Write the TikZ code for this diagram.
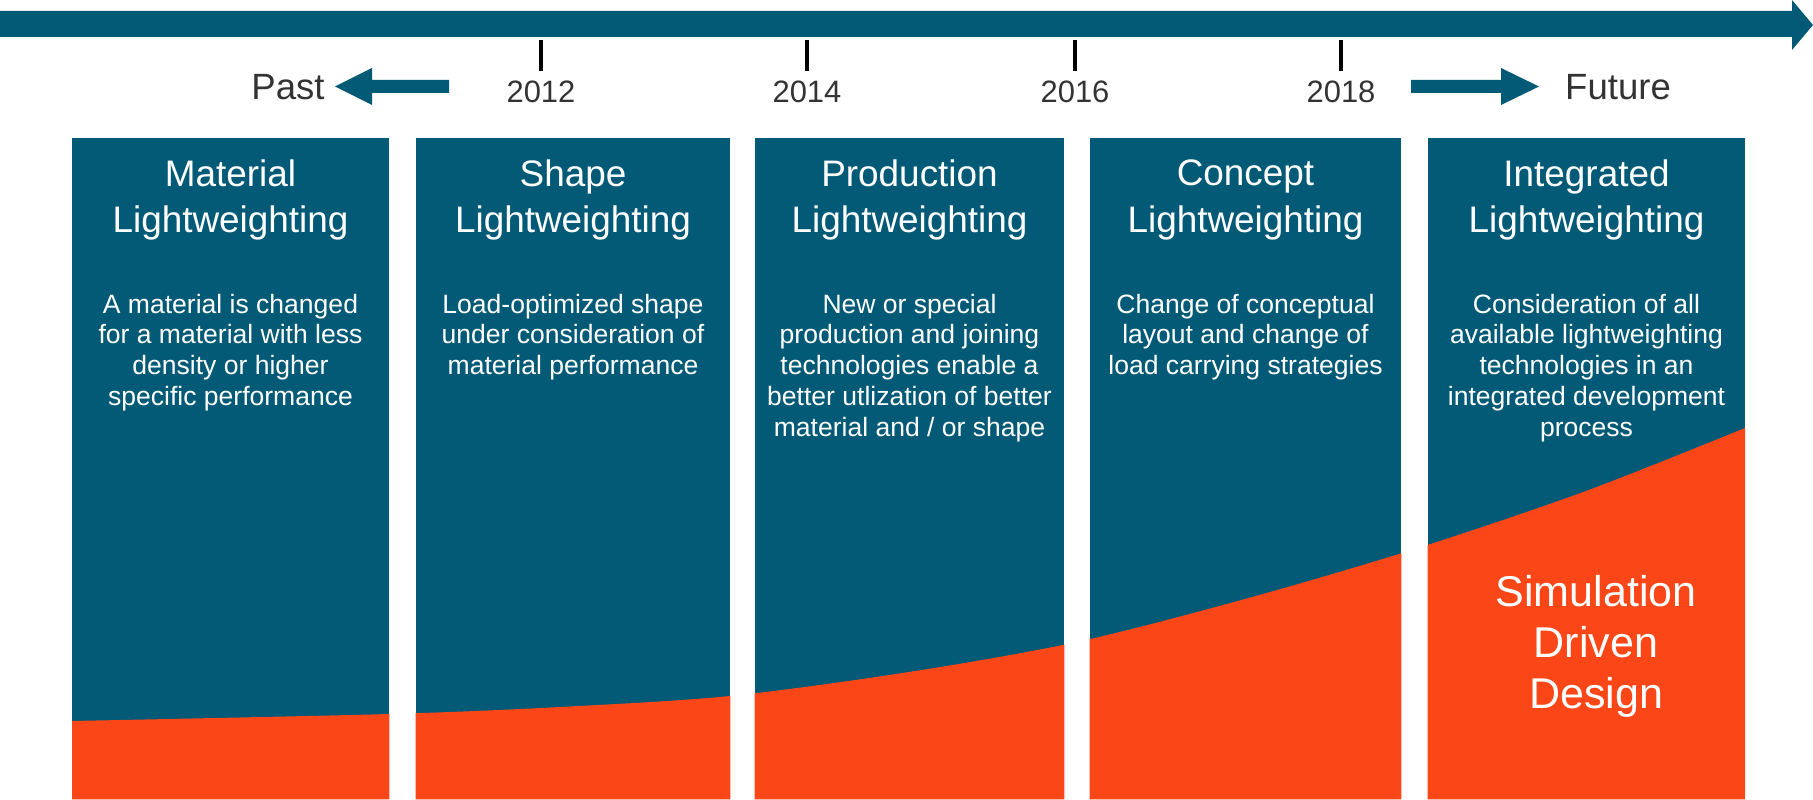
\documentclass[tikz,border=0pt]{standalone}
\usepackage{fontspec}
\setmainfont{Liberation Sans}
\definecolor{deepteal}{HTML}{035A77}
\definecolor{flameorange}{HTML}{FB4717}
\definecolor{yeargray}{HTML}{333333}

\tikzset{
  panel/.style={fill=deepteal, inner sep=0, minimum height=13.22cm},
  paneltitle/.style={text=white, align=center, inner sep=0, anchor=north, font=\fontsize{21}{26.7}\selectfont},
  paneltext/.style={text=white, align=center, inner sep=0, anchor=north, font=\fontsize{15.1}{17.6}\selectfont},
  yearlabel/.style={text=yeargray, inner sep=0, anchor=base, font=\fontsize{17.6}{20}\selectfont},
  timelabel/.style={text=yeargray, inner sep=0, anchor=base, font=\fontsize{20.8}{24}\selectfont},
}

\begin{document}
\begin{tikzpicture}[x=0.02cm, y=-0.02cm]
            \useasboundingbox (0,0) rectangle (1813,800);

            % time axis
            \fill[deepteal] (0,11) -- (1792,11) -- (1792,0) -- (1813,25) -- (1792,50) -- (1792,37) -- (0,37) -- cycle;
            \foreach \x/\yr in {541/2012, 807/2014, 1075/2016, 1341/2018} {
                \draw[line width=2pt] (\x,40) -- (\x,71);
                \node[yearlabel] (y\yr) at (\x,103) {\yr};
            }

            % past / future
            \fill[deepteal] (449,80) -- (372,80) -- (372,68) -- (335,86.5) -- (372,105) -- (372,93) -- (449,93) -- cycle;
            \fill[deepteal] (1411,80) -- (1501,80) -- (1501,68) -- (1539,86.5) -- (1501,105) -- (1501,93) -- (1411,93) -- cycle;
            \node[timelabel] (past) at (288,100) {Past};
            \node[timelabel] (future) at (1618,100) {Future};

            % panels
            \node[panel, minimum width=6.34cm] (matpanel) at (230.5,468.5) {};
            \node[panel, minimum width=6.28cm] (shppanel) at (573,468.5) {};
            \node[panel, minimum width=6.18cm] (prdpanel) at (909.5,468.5) {};
            \node[panel, minimum width=6.22cm] (cnppanel) at (1245.5,468.5) {};
            \node[panel, minimum width=6.34cm] (intpanel) at (1586.5,468.5) {};

            % simulation share
            \begin{scope}
                \clip (matpanel.south west) rectangle (matpanel.north east)
                      (shppanel.south west) rectangle (shppanel.north east)
                      (prdpanel.south west) rectangle (prdpanel.north east)
                      (cnppanel.south west) rectangle (cnppanel.north east)
                      (intpanel.south west) rectangle (intpanel.north east);
                \fill[flameorange] plot[smooth] coordinates {(72,721) (390,714) (560,707) (730,696) (909,672) (1077,642) (1245,599) (1415,549) (1586,491) (1745,428)}
                    -- (1745,800) -- (72,800) -- cycle;
            \end{scope}

            \node[paneltitle] (mattitle) at (230.5,159) {Material\\Lightweighting};
            \node[paneltitle] (shptitle) at (573,159) {Shape\\Lightweighting};
            \node[paneltitle] (prdtitle) at (909.5,159) {Production\\Lightweighting};
            \node[paneltitle] (cnptitle) at (1245.5,159) {Concept\\Lightweighting};
            \node[paneltitle] (inttitle) at (1586.5,159) {Integrated\\Lightweighting};

            \node[paneltext] (mattext) at (230.5,293.5) {A material is changed\\for a material with less\\density or higher\\specific performance};
            \node[paneltext] (shptext) at (573,293.5) {Load-optimized shape\\under consideration of\\material performance};
            \node[paneltext] (prdtext) at (909.5,293.5) {New or special\\production and joining\\technologies enable a\\better utlization of better\\material and / or shape};
            \node[paneltext] (cnptext) at (1245.5,293.5) {Change of conceptual\\layout and change of\\load carrying strategies};
            \node[paneltext] (inttext) at (1586.5,293.5) {Consideration of all\\available lightweighting\\technologies in an\\integrated development\\process};

            \node[paneltitle, font=\fontsize{24.5}{29}\selectfont] (sdd) at (1596,575) {Simulation\\Driven\\Design};
\end{tikzpicture}
\end{document}
